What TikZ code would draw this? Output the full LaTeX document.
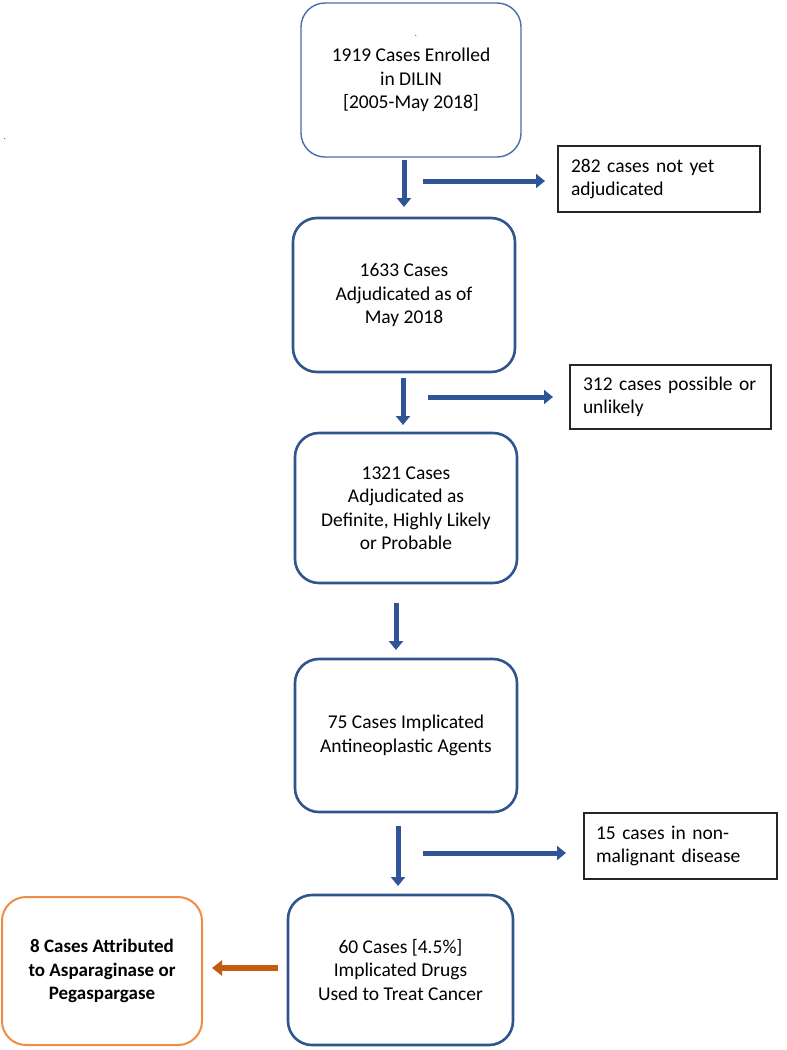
\documentclass[tikz,border=0pt]{standalone}
\usepackage{fontspec}
\setmainfont{Carlito}
\usetikzlibrary{arrows.meta,positioning}
\definecolor{boxblue}{RGB}{47,85,140}
\definecolor{lightblue}{RGB}{72,110,170}
\definecolor{arrowblue}{RGB}{47,85,151}
\definecolor{orangebox}{RGB}{240,140,70}
\definecolor{orangearrow}{RGB}{197,90,17}
\tikzset{
  x=1pt, y=-1pt,
  txt/.style={font=\fontsize{19.5}{23.5}\selectfont, align=center},
  mainbox/.style={draw=boxblue, line width=2.6pt, rounded corners=24pt, txt, inner sep=0pt},
  firstbox/.style={draw=lightblue, line width=1.4pt, rounded corners=24pt, txt, inner sep=0pt},
  sidebox/.style={draw=black!85, line width=1.8pt, inner sep=0pt, font=\fontsize{19.5}{23}\selectfont, align=left},
  orbox/.style={draw=orangebox, line width=2pt, rounded corners=24pt, inner sep=0pt, font=\bfseries\fontsize{19}{23.5}\selectfont, align=center},
  downarrow/.style={draw=arrowblue, line width=5pt, -{Triangle[width=14pt,length=9pt]}},
  sidearrow/.style={draw=arrowblue, line width=5pt, -{Triangle[width=14pt,length=9pt]}},
  orarrow/.style={draw=orangearrow, line width=6pt, -{Triangle[width=15pt,length=10pt]}},
  dot/.style={font=\fontsize{8}{8}\selectfont, inner sep=0pt}
}
\begin{document}
\begin{tikzpicture}
\useasboundingbox (0,0) rectangle (787,1050);
\fill[white] (0,0) rectangle (787,1050);

\node[firstbox, minimum width=220pt, minimum height=154pt] (b1) at (411,80) {1919 Cases Enrolled\\in DILIN\\{[2005-May 2018]}};
\node[dot] (d1) at (416,36) {.};
\node[dot] (d2) at (5,139) {.};

\node[sidebox, minimum width=202pt, minimum height=66pt, text width=176pt] (s1) at (659,179) {282 cases not yet\\adjudicated};
\node[mainbox, minimum width=222pt, minimum height=154pt] (b2) at (404,295) {1633 Cases\\Adjudicated as of\\May 2018};
\node[sidebox, minimum width=201pt, minimum height=64pt, text width=175pt] (s2) at (670.5,397) {312 cases possible or\\unlikely};
\node[mainbox, minimum width=222pt, minimum height=150pt] (b3) at (406,508) {1321 Cases\\Adjudicated as\\Definite, Highly Likely\\or Probable};
\node[mainbox, minimum width=222pt, minimum height=153pt] (b4) at (406,735.5) {75 Cases Implicated\\Antineoplastic Agents};
\node[sidebox, minimum width=193pt, minimum height=66pt, text width=169pt] (s3) at (680.5,846) {15 cases in non-\\malignant disease};
\node[mainbox, minimum width=225pt, minimum height=150pt] (b5) at (400.5,970) {60 Cases {[4.5\%]}\\Implicated Drugs\\Used to Treat Cancer};
\node[orbox, minimum width=200pt, minimum height=148pt] (o1) at (102,971) {8 Cases Attributed\\to Asparaginase or\\Pegaspargase};

% arrow coordinates
\coordinate (a1s) at (404,160); \coordinate (a1e) at (404,207);
\coordinate (h1s) at (423,181); \coordinate (h1e) at (545,181);
\coordinate (a2s) at (403,378); \coordinate (a2e) at (403,425);
\coordinate (h2s) at (428,397); \coordinate (h2e) at (553,397);
\coordinate (a3s) at (396,603); \coordinate (a3e) at (396,650);
\coordinate (a4s) at (398,826); \coordinate (a4e) at (398,886);
\coordinate (h4s) at (423,853); \coordinate (h4e) at (566,853);
\coordinate (oas) at (278,968); \coordinate (oae) at (212,968);

\draw[downarrow] (a1s) -- (a1e);
\draw[sidearrow] (h1s) -- (h1e);
\draw[downarrow] (a2s) -- (a2e);
\draw[sidearrow] (h2s) -- (h2e);
\draw[downarrow] (a3s) -- (a3e);
\draw[downarrow] (a4s) -- (a4e);
\draw[sidearrow] (h4s) -- (h4e);
\draw[orarrow] (oas) -- (oae);
\end{tikzpicture}
\end{document}
